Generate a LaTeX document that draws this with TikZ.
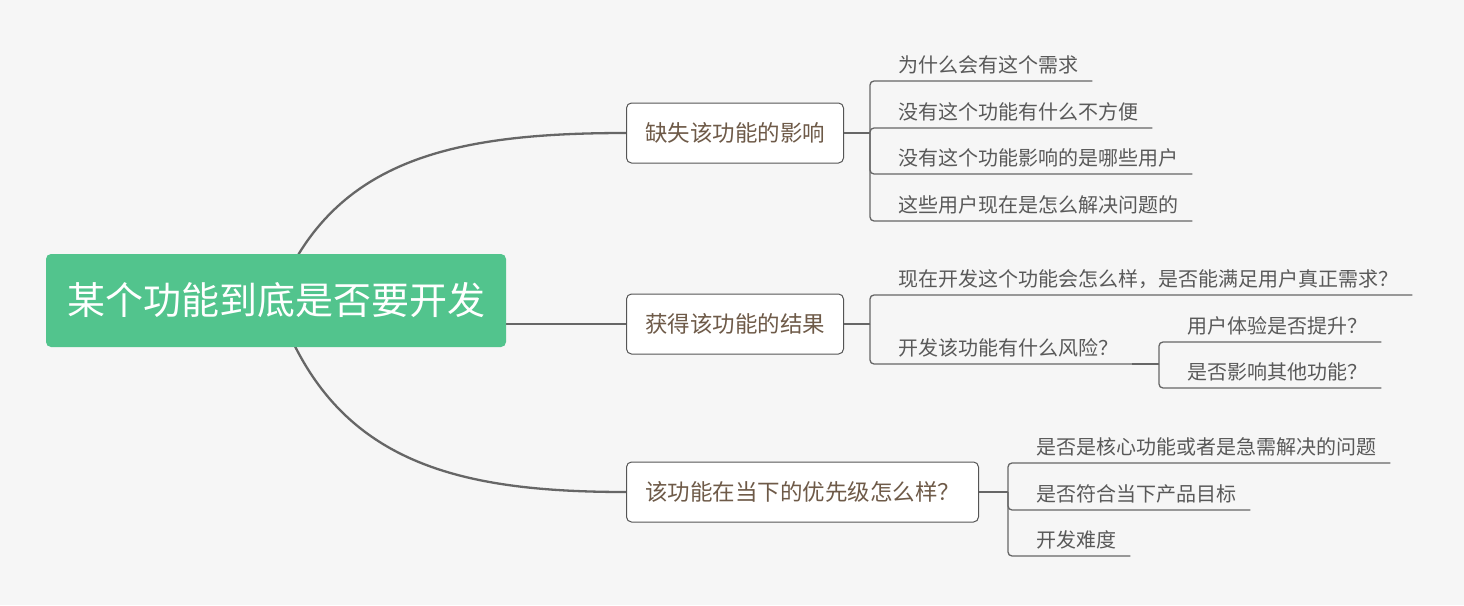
\documentclass[tikz,border=0pt]{standalone}
\usepackage{fontspec}
\newfontfamily\cjk{Noto Sans CJK SC}
\usetikzlibrary{backgrounds}
\definecolor{bgc}{HTML}{F6F6F6}
\definecolor{rootc}{HTML}{52C48D}
\definecolor{linec}{HTML}{666666}
\definecolor{boxline}{HTML}{555555}
\definecolor{branchtext}{HTML}{6E5A48}
\definecolor{childtext}{HTML}{595959}
\tikzset{
  rootbox/.style={fill=rootc, rounded corners=5pt, text=white, font=\cjk\fontsize{38}{44}\selectfont,
    minimum width=460pt, minimum height=93pt, inner sep=0pt},
  branchbox/.style={draw=boxline, line width=1pt, fill=white, rounded corners=5pt, text=branchtext,
    font=\cjk\fontsize{22.5}{26}\selectfont, minimum height=60pt, inner xsep=18.5pt, anchor=west},
  childtxt/.style={font=\cjk\fontsize{20}{24}\selectfont, text=childtext, inner xsep=0pt, inner ysep=3pt,
    text height=15pt, text depth=5pt, anchor=south west},
  rootconn/.style={draw=linec, line width=2.3pt},
  bconn/.style={draw=linec, line width=1.6pt},
  cconn/.style={draw=linec, line width=1.3pt, rounded corners=4pt},
}
\newcommand{\ctext}[1]{\hspace*{28pt}#1\hspace*{14pt}}
\begin{document}
\begin{tikzpicture}[x=1pt,y=-1pt]
\useasboundingbox (0,0) rectangle (1464,605);

% root and branches
\node[rootbox] (root) at (276,300.5) {某个功能到底是否要开发};
\node[branchbox] (b1) at (626,133) {缺失该功能的影响};
\node[branchbox] (b2) at (626,324) {获得该功能的结果};
\node[branchbox] (b3) at (626,492) {该功能在当下的优先级怎么样？};

% junctions
\coordinate (J1) at (870,133);
\coordinate (J2) at (870,324);
\coordinate (J2b) at (1159,364);
\coordinate (J3) at (1008,492);

% children of b1
\node[childtxt] (c11) at (870,81) {\ctext{为什么会有这个需求}};
\node[childtxt] (c12) at (870,128) {\ctext{没有这个功能有什么不方便}};
\node[childtxt] (c13) at (870,174) {\ctext{没有这个功能影响的是哪些用户}};
\node[childtxt] (c14) at (870,221) {\ctext{这些用户现在是怎么解决问题的}};

% children of b2
\node[childtxt] (c21) at (870,295) {\ctext{现在开发这个功能会怎么样，是否能满足用户真正需求？}};
\node[childtxt] (c22) at (870,364) {\ctext{开发该功能有什么风险？}};
\node[childtxt] (g1) at (1159,342) {\ctext{用户体验是否提升？}};
\node[childtxt] (g2) at (1159,388) {\ctext{是否影响其他功能？}};

% children of b3
\node[childtxt] (c31) at (1008,463) {\ctext{是否是核心功能或者是急需解决的问题}};
\node[childtxt] (c32) at (1008,510) {\ctext{是否符合当下产品目标}};
\node[childtxt] (c33) at (1008,556) {\ctext{开发难度}};

\begin{scope}[on background layer]
  \fill[bgc] (0,0) rectangle (1464,605);
  \draw[rootconn] (root.center) .. controls (330,160) and (450,133) .. (b1.west);
  \draw[rootconn] (root.center |- b2.west) -- (b2.west);
  \draw[rootconn] (root.center) .. controls (330,460) and (450,492) .. (b3.west);
\end{scope}

% branch to junction
\draw[bconn] (b1.east) -- (J1);
\draw[bconn] (b2.east) -- (J2);
\draw[bconn] (b3.east) -- (J3);
\draw[bconn] (c22.south east) -- (J2b);

% junction to children
\foreach \c in {c11,c12,c13,c14} \draw[cconn] (J1) |- (\c.south east);
\foreach \c in {c21,c22} \draw[cconn] (J2) |- (\c.south east);
\foreach \c in {g1,g2} \draw[cconn] (J2b) |- (\c.south east);
\foreach \c in {c31,c32,c33} \draw[cconn] (J3) |- (\c.south east);
\end{tikzpicture}
\end{document}
